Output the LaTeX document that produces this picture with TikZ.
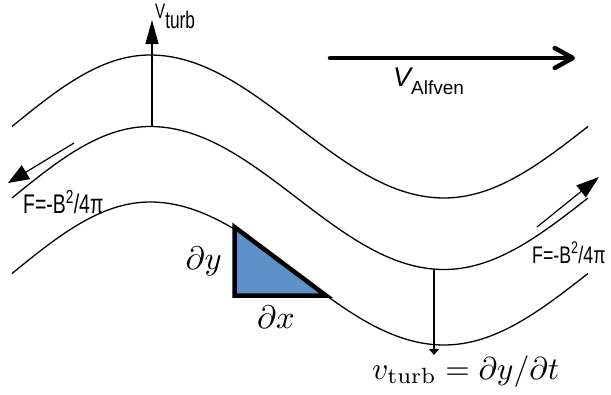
\documentclass[tikz,border=0pt]{standalone}
\usepackage{fontspec}
\setsansfont{Liberation Sans}
\usetikzlibrary{arrows.meta}
\definecolor{triblue}{RGB}{94,145,200}
\newcommand\fieldline[1]{%
  \draw[fieldl] plot[domain=12:150,samples=40] (\x,{#1-71.5*cos((\x-150)/138*90)})
    -- plot[domain=150:444,samples=80] (\x,{#1-71.5*cos((\x-150)/294*180)})
    -- plot[domain=444:588,samples=40] (\x,{#1-71.5*cos(180+(\x-444)/144*90)});}
\begin{document}
\begin{tikzpicture}[x=1pt,y=-1pt,
  fieldl/.style={line width=1.3pt, line join=round},
  thinarrow/.style={line width=1.2pt},
  lbl/.style={inner sep=0pt, font=\sffamily}]
\useasboundingbox (0,0) rectangle (611,394);
\fieldline{126.5}
\fieldline{198}
\fieldline{273.5}
% triangle
\draw[line width=4.5pt, fill=triblue, line join=miter] (234.5,227) -- (234.5,295.5) -- (326,295.5) -- cycle;
% arrows
\coordinate (vtbase) at (152,127);
\coordinate (vttip) at (152,20);
\draw[thinarrow, -{Triangle[length=24pt,width=13pt]}] (vtbase) -- (vttip);
\coordinate (vbbase) at (434,269);
\coordinate (vbtip) at (434,355);
\draw[thinarrow, -{Triangle[length=6pt,width=10pt]}] (vbbase) -- (vbtip);
\coordinate (fl1) at (74,143);
\coordinate (fl2) at (8,183);
\draw[thinarrow, -{Triangle[length=21pt,width=16pt]}] (fl1) -- (fl2);
\coordinate (fr1) at (537,227);
\coordinate (fr2) at (599,177);
\draw[thinarrow, -{Triangle[length=23pt,width=15pt]}] (fr1) -- (fr2);
\coordinate (va1) at (330,58);
\coordinate (va2) at (575,58);
\draw[line width=4.5pt, line cap=round, -{Straight Barb[length=18pt,width=20pt,round]}] (va1) -- (va2);
% labels
\node[lbl, anchor=base west] (vturb) at (155,18) {\scalebox{0.72}[1]{\fontsize{21}{21}\selectfont V\raisebox{-10pt}{\fontsize{24}{24}\selectfont turb}}};
\node[lbl, anchor=base west] (valf) at (393,86) {\fontsize{27}{27}\selectfont\itshape V\upshape\raisebox{-8pt}{\fontsize{19}{19}\selectfont Alfven}};
\node[lbl, anchor=base west] (fleft) at (23,213) {\scalebox{0.72}[1]{\fontsize{27}{27}\selectfont F=-B\textsuperscript{2}/4π}};
\node[lbl, anchor=base west] (fright) at (532,263) {\scalebox{0.74}[1]{\fontsize{24}{24}\selectfont F=-B\textsuperscript{2}/4π}};
\node[inner sep=0pt, anchor=base east] (dy) at (222,269) {\scalebox{3.25}{$\partial y$}};
\node[inner sep=0pt, anchor=base west] (dx) at (257,328) {\scalebox{3.25}{$\partial x$}};
\node[inner sep=0pt, anchor=base west] (formula) at (372,379) {\scalebox{3.15}{$v_{\mathrm{turb}}=\partial y/\partial t$}};
\end{tikzpicture}
\end{document}
